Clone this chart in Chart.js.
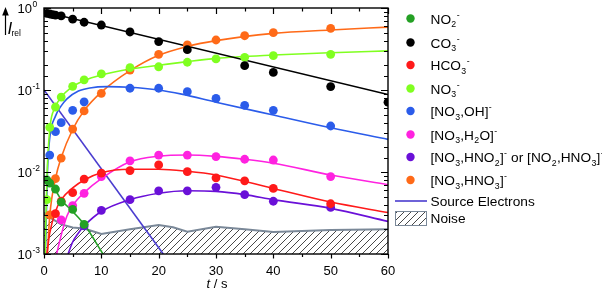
<!DOCTYPE html>
<html>
<head>
<meta charset="utf-8">
<script src="https://cdn.jsdelivr.net/npm/chart.js@4/dist/chart.umd.min.js"></script>
<style>
  html, body { margin: 0; padding: 0; background: #fff; }
</style>
</head>
<body>
<canvas id="chart" width="602" height="291"></canvas>
<script>
const FONT = '"Liberation Sans", Arial, sans-serif';

// measured points, t in s
const times = [0.5, 1, 1.5, 2, 3, 5, 7, 10, 15, 20, 25, 30, 35, 40, 50, 60];
const no2   = [0.008, 0.0073, null, 0.0062, 0.0043, 0.0035, 0.0023, null, null, null, null, null, null, null, null, null];
const co3   = [0.86, 0.845, 0.83, 0.82, 0.80, 0.73, 0.67, 0.62, 0.51, 0.39, 0.31, null, 0.198, 0.164, 0.11, 0.071];
const hco3  = [null, null, null, 0.0031, 0.0044, 0.0056, 0.0082, 0.0097, 0.0104, 0.0122, 0.0101, 0.0085, 0.0078, 0.0063, 0.0041, null];
const no3   = [0.0046, 0.035, null, 0.062, 0.082, 0.111, 0.133, 0.157, 0.187, 0.192, 0.218, 0.239, 0.25, 0.262, 0.272, null];
const no3oh = [null, 0.0161, null, 0.031, 0.040, 0.0565, 0.0718, null, 0.105, 0.105, 0.0953, 0.079, 0.065, 0.0565, 0.0364, null];
const no3h2o = [null, null, null, null, 0.0026, 0.0039, 0.0055, 0.0088, 0.0137, 0.0161, 0.0161, 0.0154, 0.0143, 0.014, 0.0088, null];
const no3hno2 = [null, null, null, null, null, null, 0.0022, 0.0034, 0.0046, 0.0059, 0.0059, 0.0065, 0.0053, 0.0044, 0.0037, null];
const no3hno3 = [null, 0.003, null, 0.0083, 0.0148, 0.0334, 0.0555, 0.091, 0.175, 0.272, 0.354, 0.407, 0.459, 0.50, 0.565, null];

// fitted curves
const no2FitT = [0, 1, 2, 3, 5, 7, 10.3];
const no2FitV = [0.009, 0.0075, 0.006, 0.0046, 0.0033, 0.0023, 0.001];
const co3FitT = [0, 60];
const co3FitV = [0.9, 0.088];
const hco3FitT = [0.5, 1, 2, 3, 5, 7, 10, 15, 20, 25, 30, 40, 50, 60];
const hco3FitV = [0.001, 0.0018, 0.0033, 0.0046, 0.0064, 0.008, 0.0098, 0.0108, 0.0108, 0.0102, 0.0092, 0.0063, 0.0043, 0.0032];
const no3FitT = [0.2, 0.5, 1, 2, 3, 5, 7, 10, 15, 20, 25, 30, 40, 50, 60];
const no3FitV = [0.001, 0.008, 0.033, 0.062, 0.082, 0.11, 0.13, 0.152, 0.18, 0.2, 0.222, 0.243, 0.267, 0.285, 0.30];
const no3ohFitT = [0.25, 0.6, 1, 2, 3, 4, 6, 8, 11, 15, 20, 24, 30, 40, 50, 60];
const no3ohFitV = [0.001, 0.01, 0.026, 0.048, 0.064, 0.078, 0.097, 0.106, 0.11, 0.108, 0.1, 0.089, 0.071, 0.0495, 0.0346, 0.025];
const no3h2oFitT = [2.2, 3, 4, 5, 7, 10, 15, 20, 25, 30, 35, 40, 50, 60];
const no3h2oFitV = [0.001, 0.0017, 0.0029, 0.0039, 0.0056, 0.0083, 0.0133, 0.0156, 0.0161, 0.0155, 0.0143, 0.0128, 0.0092, 0.007];
const no3hno2FitT = [4.2, 5, 6, 7, 10, 15, 20, 25, 30, 35, 40, 50, 60];
const no3hno2FitV = [0.001, 0.0014, 0.0018, 0.0022, 0.0033, 0.0046, 0.0055, 0.0059, 0.0058, 0.0053, 0.0046, 0.0036, 0.0025];
const no3hno3FitT = [0.6, 1, 2, 3, 5, 7, 10, 15, 20, 25, 30, 40, 50, 60];
const no3hno3FitV = [0.001, 0.0029, 0.0083, 0.015, 0.033, 0.056, 0.094, 0.172, 0.265, 0.34, 0.40, 0.49, 0.54, 0.585];

const electronsT = [0, 20.8];
const electronsV = [0.1, 0.001];
const noiseT = [0, 1, 3, 5, 7, 10, 15, 20, 22.5, 25, 30, 35, 40, 50, 60];
const noiseV = [0.0032, 0.0028, 0.0023, 0.0021, 0.00205, 0.00175, 0.002, 0.00226, 0.00212, 0.00187, 0.00215, 0.002, 0.00185, 0.00196, 0.002];

const yTicks = [1, 0.1, 0.01, 0.001];

const species = [
  { label: 'NO_2^-', color: '#24a024', pts: no2, fitT: no2FitT, fitV: no2FitV },
  { label: 'CO_3^-', color: '#000000', pts: co3, fitT: co3FitT, fitV: co3FitV },
  { label: 'HCO_3^-', color: '#ff1a1a', pts: hco3, fitT: hco3FitT, fitV: hco3FitV },
  { label: 'NO_3^-', color: '#80ff20', pts: no3, fitT: no3FitT, fitV: no3FitV },
  { label: '[NO_3,OH]^-', color: '#2b5cea', pts: no3oh, fitT: no3ohFitT, fitV: no3ohFitV },
  { label: '[NO_3,H_2O]^-', color: '#ff22e0', pts: no3h2o, fitT: no3h2oFitT, fitV: no3h2oFitV },
  { label: '[NO_3,HNO_2]^- or [NO_2,HNO_3]^-', color: '#6a10d8', pts: no3hno2, fitT: no3hno2FitT, fitV: no3hno2FitV },
  { label: '[NO_3,HNO_3]^-', color: '#ff6a18', pts: no3hno3, fitT: no3hno3FitT, fitV: no3hno3FitV }
];

const xy = (ts, vs) => ts.map((t, i) => ({ x: t, y: vs[i] }));

function makeHatch() {
  const c = document.createElement('canvas');
  c.width = 7; c.height = 7;
  const g = c.getContext('2d');
  g.fillStyle = '#fff';
  g.fillRect(0, 0, 7, 7);
  g.strokeStyle = '#333';
  g.lineWidth = 0.9;
  g.beginPath();
  g.moveTo(-1, 8); g.lineTo(8, -1);
  g.moveTo(-1, 1); g.lineTo(1, -1);
  g.moveTo(6, 8); g.lineTo(8, 6);
  g.stroke();
  return g.createPattern(c, 'repeat');
}
const hatch = makeHatch();

const datasets = [];
species.forEach(s => {
  datasets.push({
    data: xy(times, s.pts), showLine: false, pointRadius: 4.4, pointBorderWidth: 0,
    pointBackgroundColor: s.color, order: 0
  });
  datasets.push({
    data: xy(s.fitT, s.fitV), borderColor: s.color, borderWidth: 1.6, pointRadius: 0,
    cubicInterpolationMode: 'monotone', fill: false, order: 1
  });
});
datasets.push({
  data: xy(electronsT, electronsV), borderColor: '#4a3ccf', borderWidth: 1.6, pointRadius: 0, order: 1
});
datasets.push({
  data: xy(noiseT, noiseV), borderColor: '#7a8898', borderWidth: 2, pointRadius: 0,
  fill: 'start', backgroundColor: hatch, tension: 0, order: 2
});

// draw text with _x subscripts and ^x superscripts
function richText(ctx, str, x, y, size) {
  const small = size * 0.64;
  let i = 0, run = '';
  const flush = () => {
    if (!run) return;
    ctx.font = size + 'px ' + FONT;
    ctx.fillText(run, x, y);
    x += ctx.measureText(run).width;
    run = '';
  };
  while (i < str.length) {
    const c = str[i];
    if ((c === '_' || c === '^') && i + 1 < str.length) {
      flush();
      const ch = str[i + 1];
      ctx.font = small + 'px ' + FONT;
      ctx.fillText(ch, x + 0.3, c === '_' ? y + 3.5 : y - 6);
      x += ctx.measureText(ch).width + 0.6;
      i += 2;
    } else {
      run += c;
      i++;
    }
  }
  flush();
}

const decor = {
  id: 'decor',
  afterDraw(chart) {
    const ctx = chart.ctx;
    const a = chart.chartArea;
    const xs = chart.scales.x, ys = chart.scales.y;
    ctx.save();
    ctx.strokeStyle = '#000';
    ctx.fillStyle = '#000';
    ctx.lineWidth = 1.4;
    ctx.strokeRect(a.left, a.top, a.right - a.left, a.bottom - a.top);

    ctx.lineWidth = 1.2;
    ctx.beginPath();
    xs.ticks.forEach(t => {
      const px = Math.round(xs.getPixelForValue(t.value)) + 0.5;
      const major = t.value % 10 === 0;
      ctx.moveTo(px, a.bottom); ctx.lineTo(px, a.bottom + (major ? 4.5 : 3));
      ctx.moveTo(px, a.top); ctx.lineTo(px, a.top + (major ? 6 : 3.5));
    });
    ys.ticks.forEach(t => {
      const lg = Math.log10(t.value);
      const major = Math.abs(lg - Math.round(lg)) < 1e-6;
      const py = Math.round(ys.getPixelForValue(t.value)) + 0.5;
      const len = major ? 7 : 4;
      ctx.moveTo(a.left, py); ctx.lineTo(a.left + len, py);
      ctx.moveTo(a.right, py); ctx.lineTo(a.right - len, py);
    });
    ctx.stroke();

    // y tick labels 10^n
    ctx.textBaseline = 'alphabetic';
    yTicks.forEach(v => {
      const py = ys.getPixelForValue(v);
      const e = Math.round(Math.log10(v));
      ctx.font = '13px ' + FONT;
      ctx.textAlign = 'right';
      ctx.fillText('10', 32, py + 4.7);
      ctx.font = '8.5px ' + FONT;
      ctx.textAlign = 'left';
      ctx.fillText(e === 0 ? '0' : '-' + Math.abs(e), 32.5, py - 0.8);
    });

    // x title  t / s
    ctx.textAlign = 'left';
    ctx.font = 'italic 13px ' + FONT;
    const w1 = ctx.measureText('t').width;
    ctx.font = '13px ' + FONT;
    const w2 = ctx.measureText(' / s').width;
    const x0 = 217 - (w1 + w2) / 2;
    ctx.font = 'italic 13px ' + FONT;
    ctx.fillText('t', x0, 288);
    ctx.font = '13px ' + FONT;
    ctx.fillText(' / s', x0 + w1, 288);

    // y title: arrow + I_rel
    ctx.lineWidth = 1.2;
    ctx.beginPath();
    ctx.moveTo(5.5, 35); ctx.lineTo(5.5, 14);
    ctx.stroke();
    ctx.beginPath();
    ctx.moveTo(5.5, 7); ctx.lineTo(2.2, 15.5); ctx.lineTo(8.8, 15.5); ctx.closePath();
    ctx.fill();
    ctx.font = 'italic 17px ' + FONT;
    ctx.fillText('I', 7.5, 34);
    ctx.font = '8.5px ' + FONT;
    ctx.fillText('rel', 11.5, 35.5);

    // legend
    const rows = [18.5, 42.5, 65, 88.5, 111, 134.5, 157, 180, 201, 218];
    species.forEach((s, i) => {
      ctx.fillStyle = s.color;
      ctx.beginPath();
      ctx.arc(410.5, rows[i], 4.2, 0, Math.PI * 2);
      ctx.fill();
      ctx.fillStyle = '#000';
      richText(ctx, s.label, 430.5, rows[i] + 5, 13.7);
    });
    ctx.strokeStyle = '#4a3ccf';
    ctx.lineWidth = 1.6;
    ctx.beginPath();
    ctx.moveTo(395, rows[8]); ctx.lineTo(427, rows[8]);
    ctx.stroke();
    ctx.fillStyle = '#000';
    richText(ctx, 'Source Electrons', 430.5, rows[8] + 5, 13.7);
    ctx.fillStyle = hatch;
    ctx.fillRect(395, rows[9] - 7, 31, 14);
    ctx.strokeStyle = '#7a8898';
    ctx.lineWidth = 1;
    ctx.strokeRect(395.5, rows[9] - 6.5, 31, 14);
    ctx.fillStyle = '#000';
    richText(ctx, 'Noise', 430.5, rows[9] + 5, 13.7);
    ctx.restore();
  }
};

new Chart(document.getElementById('chart'), {
  type: 'line',
  data: { datasets },
  options: {
    responsive: false,
    animation: false,
    devicePixelRatio: 1,
    layout: { padding: { top: 8, right: 214, bottom: 0, left: 0 } },
    plugins: { legend: { display: false }, tooltip: { enabled: false } },
    elements: { line: { tension: 0 } },
    scales: {
      x: {
        type: 'linear', min: 0, max: 60,
        grid: { display: false, drawTicks: false },
        border: { display: false },
        ticks: {
          stepSize: 5, autoSkip: false, maxRotation: 0, padding: 10,
          color: '#000', font: { family: FONT, size: 13 },
          callback: v => (v % 10 === 0 ? String(v) : '')
        },
        afterFit: s => { s.height = 37; }
      },
      y: {
        type: 'logarithmic', min: 0.001, max: 1,
        grid: { display: false, drawTicks: false },
        border: { display: false },
        ticks: { display: false },
        afterFit: s => { s.width = 44; }
      }
    }
  },
  plugins: [decor]
});
</script>
</body>
</html>
